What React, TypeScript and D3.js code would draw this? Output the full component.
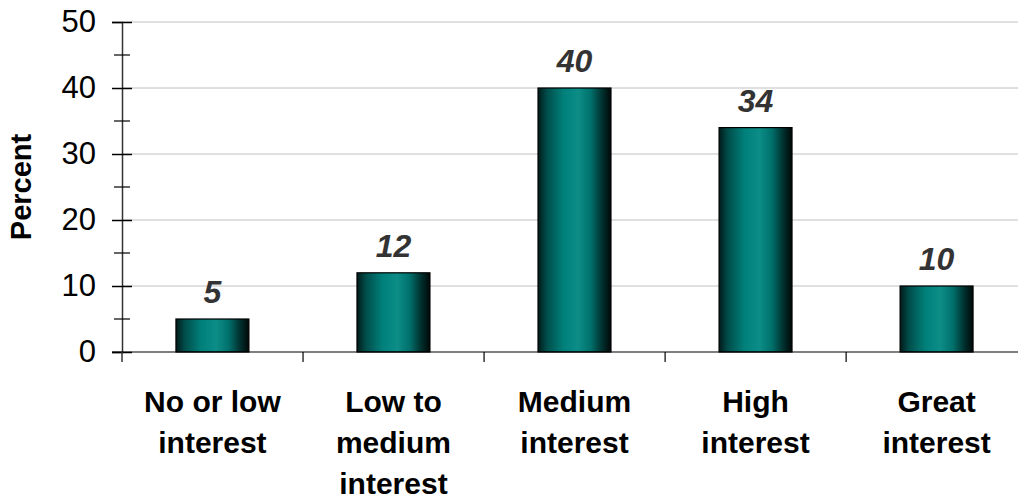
import { useEffect, useRef } from "react";
import * as d3 from "d3";

const categories: string[][] = [
  ["No or low", "interest"],
  ["Low to", "medium", "interest"],
  ["Medium", "interest"],
  ["High", "interest"],
  ["Great", "interest"],
];
const values = [5, 12, 40, 34, 10];
const yTicks = [0, 10, 20, 30, 40, 50];
const yMinorTicks = [5, 15, 25, 35, 45];

export default function App() {
  const ref = useRef<SVGSVGElement>(null);

  useEffect(() => {
    const svg = d3.select(ref.current);
    svg.selectAll("*").remove();

    const width = 1018;
    const height = 500;
    const margin = { top: 22, right: -9, bottom: 148, left: 122 };
    const font = "Arial, 'Liberation Sans', sans-serif";

    const x = d3.scaleBand<number>()
      .domain(values.map((_, i) => i))
      .range([margin.left, width - margin.right])
      .paddingInner(0.597)
      .paddingOuter(0.298);
    const step = x.step();
    const y = d3.scaleLinear().domain([0, 50]).range([height - margin.bottom, margin.top]);

    const defs = svg.append("defs");
    const grad = defs.append("linearGradient").attr("id", "barGrad")
      .attr("x1", "0%").attr("x2", "100%").attr("y1", "0%").attr("y2", "0%");
    [
      [0, "#001a1a"], [0.12, "#004d4a"], [0.35, "#00807a"], [0.55, "#0d8d87"],
      [0.72, "#00716c"], [0.88, "#00302e"], [1, "#000808"],
    ].forEach(([o, c]) => grad.append("stop").attr("offset", o as number).attr("stop-color", c as string));

    // gridlines
    svg.append("g").selectAll("line")
      .data(yTicks.filter(t => t > 0))
      .enter().append("line")
      .attr("x1", margin.left).attr("x2", width)
      .attr("y1", d => y(d)).attr("y2", d => y(d))
      .attr("stroke", "#c0c0c0").attr("stroke-width", 1);

    // bars
    svg.append("g").selectAll("rect")
      .data(values)
      .enter().append("rect")
      .attr("x", (_, i) => x(i)!)
      .attr("y", d => y(d))
      .attr("width", x.bandwidth())
      .attr("height", d => y(0) - y(d))
      .attr("fill", "url(#barGrad)")
      .attr("stroke", "#000").attr("stroke-width", 1.2);

    // value labels
    svg.append("g").selectAll("text")
      .data(values)
      .enter().append("text")
      .attr("x", (_, i) => x(i)! + x.bandwidth() / 2)
      .attr("y", d => y(d) - 16)
      .attr("text-anchor", "middle")
      .attr("font-family", font).attr("font-size", 32)
      .attr("font-weight", "bold").attr("font-style", "italic")
      .attr("fill", "#333")
      .text(d => d);

    // y axis
    const yAxis = d3.axisLeft(y).tickValues(yTicks).tickSize(10).tickPadding(16).tickFormat(d3.format("d"));
    const yg = svg.append("g").attr("transform", `translate(${margin.left},0)`).call(yAxis);
    yg.select(".domain").attr("stroke", "#333").attr("stroke-width", 1.5);
    yg.selectAll(".tick line").attr("x2", 10).attr("x1", -10).attr("stroke", "#000").attr("stroke-width", 1.5);
    yg.selectAll(".tick text").attr("font-family", font).attr("font-size", 31).attr("fill", "#000");
    yg.selectAll(".minor").data(yMinorTicks).enter().append("line")
      .attr("class", "minor")
      .attr("x1", -8).attr("x2", 8)
      .attr("y1", d => y(d)).attr("y2", d => y(d))
      .attr("stroke", "#000").attr("stroke-width", 1.2);

    // x axis
    const xg = svg.append("g");
    xg.append("line")
      .attr("x1", margin.left - 10).attr("x2", width)
      .attr("y1", y(0)).attr("y2", y(0))
      .attr("stroke", "#000").attr("stroke-width", 1.2);
    xg.selectAll(".sep").data(d3.range(1, values.length + 1)).enter().append("line")
      .attr("class", "sep")
      .attr("x1", i => margin.left + i * step)
      .attr("x2", i => margin.left + i * step)
      .attr("y1", y(0)).attr("y2", y(0) + 10)
      .attr("stroke", "#000").attr("stroke-width", 1.2);
    xg.append("line")
      .attr("x1", margin.left).attr("x2", margin.left)
      .attr("y1", y(0)).attr("y2", y(0) + 10)
      .attr("stroke", "#333").attr("stroke-width", 1.5);

    // category labels
    const cl = svg.append("g").selectAll("text")
      .data(categories)
      .enter().append("text")
      .attr("text-anchor", "middle")
      .attr("font-family", font).attr("font-size", 30).attr("font-weight", "bold")
      .attr("fill", "#000");
    cl.each(function (lines, i) {
      const t = d3.select(this);
      lines.forEach((ln, j) => {
        t.append("tspan")
          .attr("x", x(i)! + x.bandwidth() / 2)
          .attr("y", 412 + j * 41)
          .text(ln);
      });
    });

    // y title
    svg.append("text")
      .attr("transform", `translate(31,${(y(0) + y(50)) / 2}) rotate(-90)`)
      .attr("text-anchor", "middle")
      .attr("font-family", font).attr("font-size", 29).attr("font-weight", "bold")
      .text("Percent");
  }, []);

  return (
    <svg ref={ref} width={1018} height={500}
      style={{ position: "absolute", left: 0, top: 0, background: "#fff" }} />
  );
}
